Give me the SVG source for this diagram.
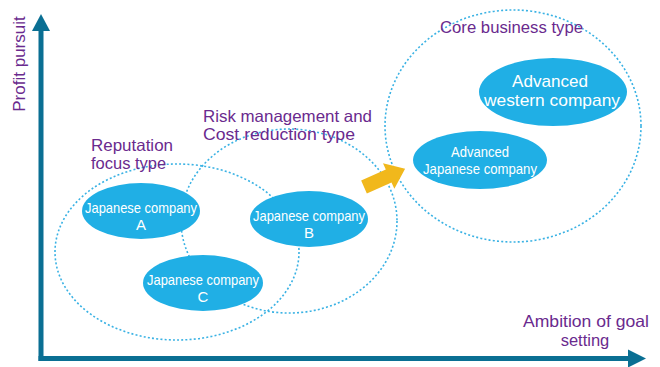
<svg xmlns="http://www.w3.org/2000/svg" width="660" height="367" viewBox="0 0 660 367">
<defs>
<style>
.grp{fill:none;stroke:#3ab2e4;stroke-width:1.6;stroke-dasharray:2 2.2}
.node{fill:#20afe5}
.nt{font-family:"Liberation Sans Narrow","Liberation Sans",Arial,sans-serif;fill:#ffffff;text-anchor:middle;font-size:15px}
.lab{font-family:"Liberation Sans",Arial,sans-serif;fill:#6a2a8e;font-size:16.5px}
.axis{stroke:#0a6f93;stroke-width:5;fill:none}
</style>
</defs>
<rect width="660" height="367" fill="#ffffff"/>
<g id="axes">
<line class="axis" x1="41" y1="27" x2="41" y2="361"/>
<line class="axis" x1="38.5" y1="358.5" x2="630" y2="358.5"/>
<polygon points="41,14 32,31 50,31" fill="#0a6f93"/>
<polygon points="646,358.5 628,349.5 628,367.5" fill="#0a6f93"/>
<text class="lab" transform="translate(25,64) rotate(-90)" text-anchor="middle" style="font-size:17px">Profit pursuit</text>
<text class="lab" x="649" y="327" text-anchor="end" textLength="126" lengthAdjust="spacingAndGlyphs">Ambition of goal</text>
<text class="lab" x="585" y="346" text-anchor="middle">setting</text>
</g>
<g id="group-reputation">
<ellipse class="grp" cx="177" cy="252" rx="122" ry="88"/>
<text class="lab" x="91" y="151" textLength="82" lengthAdjust="spacingAndGlyphs">Reputation</text>
<text class="lab" x="91" y="169">focus type</text>
</g>
<g id="group-risk">
<ellipse class="grp" cx="289" cy="221" rx="108" ry="92"/>
<text class="lab" x="203" y="122" textLength="169" lengthAdjust="spacingAndGlyphs">Risk management and</text>
<text class="lab" x="203" y="140" textLength="152" lengthAdjust="spacingAndGlyphs">Cost reduction type</text>
</g>
<g id="group-core">
<ellipse class="grp" cx="513" cy="126" rx="128" ry="116"/>
<text class="lab" x="440" y="33" textLength="143" lengthAdjust="spacingAndGlyphs">Core business type</text>
</g>
<g id="connectors">
<polygon transform="translate(364,187) rotate(-24)" points="0,-7 27,-7 27,-14 45,0 27,14 27,7 0,7" fill="#f1b81c"/>
</g>
<g id="node-a">
<ellipse class="node" cx="141" cy="211" rx="59" ry="28"/>
<text class="nt" x="141" y="213" textLength="112" lengthAdjust="spacingAndGlyphs">Japanese company</text>
<text class="nt" x="141" y="230">A</text>
</g>
<g id="node-b">
<ellipse class="node" cx="309" cy="219" rx="59" ry="28"/>
<text class="nt" x="309" y="221" textLength="112" lengthAdjust="spacingAndGlyphs">Japanese company</text>
<text class="nt" x="309" y="238">B</text>
</g>
<g id="node-c">
<ellipse class="node" cx="203" cy="283" rx="60" ry="28"/>
<text class="nt" x="203" y="285" textLength="112" lengthAdjust="spacingAndGlyphs">Japanese company</text>
<text class="nt" x="203" y="302">C</text>
</g>
<g id="node-adv-jp">
<ellipse class="node" cx="480" cy="160" rx="67" ry="29"/>
<text class="nt" x="480" y="157" textLength="58" lengthAdjust="spacingAndGlyphs">Advanced</text>
<text class="nt" x="480" y="174" textLength="114" lengthAdjust="spacingAndGlyphs">Japanese company</text>
</g>
<g id="node-adv-west">
<ellipse class="node" cx="553" cy="92" rx="74" ry="34"/>
<text class="nt" x="550" y="87" style="font-size:17px" textLength="76" lengthAdjust="spacingAndGlyphs">Advanced</text>
<text class="nt" x="552" y="106" style="font-size:17px" textLength="136" lengthAdjust="spacingAndGlyphs">western company</text>
</g>
</svg>
